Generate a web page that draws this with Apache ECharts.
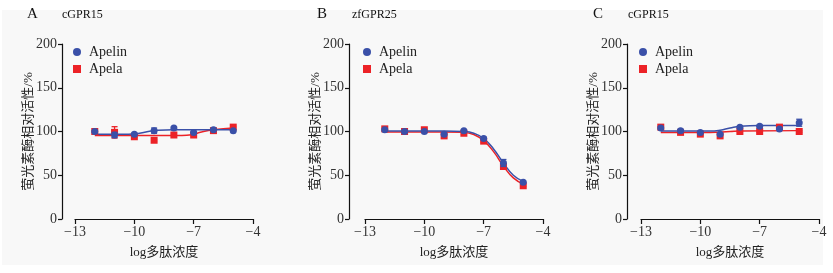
<!DOCTYPE html>
<html>
<head>
<meta charset="utf-8">
<script src="https://cdn.jsdelivr.net/npm/echarts@6/dist/echarts.min.js"></script>
<style>
  html, body { margin: 0; padding: 0; background: #fff; }
  #chart { width: 833px; height: 273px; }
</style>
</head>
<body>
<div id="chart"></div>
<script>
// log concentration of peptide
var doses = [-12, -11, -10, -9, -8, -7, -6, -5]

// panel A: cGPR15
var aApelin = [100, 96, 97, 101, 104, 99, 102, 101]
var aApelinErr = [1, 3, 1, 3, 1, 1, 1, 1]
var aApela = [100, 99, 94, 90, 96, 96, 101, 105]
var aApelaErr = [1, 6.5, 1, 1, 1, 1, 1, 1]
var aApelinFitX = [-12, -10.3, -9.8, -9.3, -8.8, -8, -5]
var aApelinFitY = [97, 97, 97.8, 100, 101.5, 102, 102]
var aApelaFitX = [-12, -7.6, -7.1, -6.6, -6, -5]
var aApelaFitY = [95.5, 95.5, 96.3, 99.5, 102, 104]

// panel B: zfGPR25
var bApelin = [102, 100, 100, 97, 101, 92, 64, 42]
var bApelinErr = [1, 1.5, 1, 1, 1, 1.5, 4, 1]
var bApela = [103, 100, 102, 95, 98, 89, 60, 38]
var bApelaErr = [1.5, 1, 1, 1, 1, 1, 2, 1]
var bFitX = [-12, -9, -8, -7.5, -7, -6.5, -6, -5.5, -5]
var bApelinFitY = [100.5, 100.5, 100, 98, 92, 80, 64, 50, 43]
var bApelaFitY = [99.5, 99.5, 99, 96.5, 89.5, 77, 60.5, 47, 40]

// panel C: cGPR15
var cApelin = [104, 101, 99, 97, 105, 106, 103, 110]
var cApelinErr = [1, 1.5, 1, 1, 1, 1, 1, 4]
var cApela = [105, 99, 97, 95, 100, 100, 105, 100]
var cApelaErr = [1, 1, 1, 1, 1, 1, 1, 1]
var cApelinFitX = [-12, -9.5, -9, -8.5, -8, -7, -5]
var cApelinFitY = [100.5, 100.5, 101.5, 104, 106, 107, 107]
var cApelaFitX = [-12, -9.5, -8.5, -8, -5]
var cApelaFitY = [99, 99, 100, 100.5, 101]

var BLUE = '#3a50a8'
var RED = '#ec2227'
var serif = '"Liberation Serif", "Times New Roman", serif'
var cjk = '"Liberation Serif", "Noto Sans CJK SC", serif'

var panels = [
  { letter: 'A', name: 'cGPR15', left: 75, yOffset: 13,
    apelin: aApelin, apelinErr: aApelinErr, apela: aApela, apelaErr: aApelaErr,
    apelinFit: [aApelinFitX, aApelinFitY], apelaFit: [aApelaFitX, aApelaFitY] },
  { letter: 'B', name: 'zfGPR25', left: 365, yOffset: 16,
    apelin: bApelin, apelinErr: bApelinErr, apela: bApela, apelaErr: bApelaErr,
    apelinFit: [bFitX, bApelinFitY], apelaFit: [bFitX, bApelaFitY] },
  { letter: 'C', name: 'cGPR15', left: 641, yOffset: 14,
    apelin: cApelin, apelinErr: cApelinErr, apela: cApela, apelaErr: cApelaErr,
    apelinFit: [cApelinFitX, cApelinFitY], apelaFit: [cApelaFitX, cApelaFitY] }
]

function zip(xs, ys) {
  return xs.map((x, i) => [x, ys[i]])
}

function errData(vals, errs) {
  return doses.map((d, i) => [d, vals[i] - errs[i], vals[i] + errs[i]])
}

function errorItem(color) {
  return function(params, api) {
    var x = api.value(0)
    var lo = api.coord([x, api.value(1)])
    var hi = api.coord([x, api.value(2)])
    var w = 3
    var st = { stroke: color, lineWidth: 1.3 }
    return {
      type: 'group',
      children: [
        { type: 'line', shape: { x1: lo[0], y1: lo[1], x2: hi[0], y2: hi[1] }, style: st },
        { type: 'line', shape: { x1: lo[0] - w, y1: lo[1], x2: lo[0] + w, y2: lo[1] }, style: st },
        { type: 'line', shape: { x1: hi[0] - w, y1: hi[1], x2: hi[0] + w, y2: hi[1] }, style: st }
      ]
    }
  }
}

var grid = []
var xAxis = []
var yAxis = []
var series = []
var legend = []
var graphic = [
  { type: 'rect', shape: { x: 2, y: 10, width: 821, height: 255 }, style: { fill: '#f8f8f8' }, z: -10 }
]

panels.forEach((p, i) => {
  grid.push({ left: p.left, top: 44, width: 178, height: 175 })
  xAxis.push({
    gridIndex: i, type: 'value', min: -13, max: -4, interval: 3,
    name: 'log多肽浓度', nameLocation: 'middle', nameGap: 27, nameMoveOverlap: false,
    nameTextStyle: { fontFamily: cjk, fontSize: 13, color: '#222' },
    axisLine: { lineStyle: { color: '#111', width: 1.2 } },
    axisTick: { length: 5, lineStyle: { color: '#111', width: 1.2 } },
    axisLabel: { margin: 6, fontFamily: serif, fontSize: 14, color: '#333',
      formatter: v => (v < 0 ? '\u2212' + Math.abs(v) : String(v)) },
    splitLine: { show: false }
  })
  yAxis.push({
    gridIndex: i, type: 'value', min: 0, max: 200, interval: 50, offset: p.yOffset,
    name: '萤光素酶相对活性/%', nameLocation: 'middle', nameGap: 27, nameMoveOverlap: false,
    nameTextStyle: { fontFamily: cjk, fontSize: 13, color: '#222' },
    axisLine: { show: true, lineStyle: { color: '#111', width: 1.2 } },
    axisTick: { show: true, length: 4, lineStyle: { color: '#111', width: 1.2 } },
    axisLabel: { margin: 5, fontFamily: serif, fontSize: 14, color: '#333' },
    splitLine: { show: false }
  })
  legend.push({
    orient: 'vertical', left: p.left - 2, top: 45, itemGap: 3, padding: 0,
    itemWidth: 8, itemHeight: 8, selectedMode: false,
    textStyle: { fontFamily: serif, fontSize: 14, color: '#222', padding: [0, 0, 0, 3] },
    data: [
      { name: 'Apelin', icon: 'circle', itemStyle: { color: BLUE, opacity: 1 } },
      { name: 'Apela', icon: 'rect', itemStyle: { color: RED, opacity: 1 } }
    ]
  })
  graphic.push(
    { type: 'text', left: p.left - 48, top: 7, style: { text: p.letter, font: '15px ' + serif, fill: '#111' } },
    { type: 'text', left: p.left - 13, top: 9, style: { text: p.name, font: '12px ' + serif, fill: '#111' } }
  )
  series.push(
    { name: 'Apela fit', type: 'line', xAxisIndex: i, yAxisIndex: i, smooth: true, symbol: 'none',
      lineStyle: { color: RED, width: 1.5 }, data: zip(p.apelaFit[0], p.apelaFit[1]), z: 2 },
    { name: 'Apelin fit', type: 'line', xAxisIndex: i, yAxisIndex: i, smooth: true, symbol: 'none',
      lineStyle: { color: BLUE, width: 1.5 }, data: zip(p.apelinFit[0], p.apelinFit[1]), z: 2 },
    { name: 'Apela err', type: 'custom', xAxisIndex: i, yAxisIndex: i, renderItem: errorItem(RED),
      data: errData(p.apela, p.apelaErr), z: 3 },
    { name: 'Apela', type: 'scatter', xAxisIndex: i, yAxisIndex: i, symbol: 'rect', symbolSize: 7,
      itemStyle: { color: RED, opacity: 1 }, data: zip(doses, p.apela), z: 4 },
    { name: 'Apelin err', type: 'custom', xAxisIndex: i, yAxisIndex: i, renderItem: errorItem(BLUE),
      data: errData(p.apelin, p.apelinErr), z: 5 },
    { name: 'Apelin', type: 'scatter', xAxisIndex: i, yAxisIndex: i, symbol: 'circle', symbolSize: 7,
      itemStyle: { color: BLUE, opacity: 1 }, data: zip(doses, p.apelin), z: 6 }
  )
})

var chart = echarts.init(document.getElementById('chart'))
chart.setOption({
  animation: false,
  backgroundColor: '#fff',
  grid: grid,
  xAxis: xAxis,
  yAxis: yAxis,
  legend: legend,
  graphic: graphic,
  series: series
})
</script>
</body>
</html>
